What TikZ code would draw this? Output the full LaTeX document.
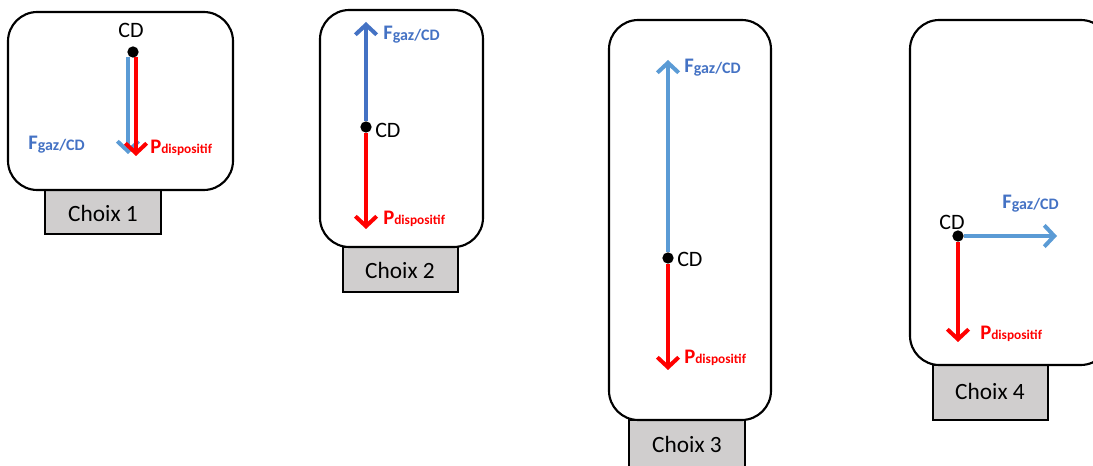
\documentclass[tikz,border=0pt]{standalone}
\usepackage{fontspec}
\setmainfont{Carlito}
\usepackage{tikz}
\usetikzlibrary{arrows.meta}
\usepackage{xcolor}

\definecolor{gazlight}{HTML}{5B9BD5}
\definecolor{gazdark}{HTML}{4472C4}
\definecolor{choixgray}{HTML}{D0CECE}

\newcommand{\Fgaz}{{\fontsize{15.5}{18}\selectfont\bfseries F}{\fontsize{12}{14}\selectfont\bfseries\raisebox{-0.6pt}{gaz/CD}}}
\newcommand{\Pdisp}{{\fontsize{15.5}{18}\selectfont\bfseries P}{\fontsize{10}{12}\selectfont\bfseries dispositif}}

\begin{document}
\begin{tikzpicture}
  [x=0.75pt, y=-0.75pt,
  outline/.style={draw=black, line width=1.6pt, rounded corners=22pt},
  choix/.style={draw=black, fill=choixgray, line width=0.8pt},
  force/.style={line width=3pt, -{Straight Barb[length=7.5pt,width=16pt]}},
  dot/.style={circle, fill=black, inner sep=0pt, minimum size=8.5pt},
  cdlabel/.style={font=\fontsize{16.5}{19}\selectfont, inner sep=0pt},
  flabel/.style={text=gazdark, anchor=base west, inner sep=0pt},
  plabel/.style={text=red, anchor=base west, inner sep=0pt}]

\useasboundingbox (0,0) rectangle (1093,466);
\clip (0,0) rectangle (1093,466);

% Choix 1
\draw[choix] (45,190) rectangle (161,234);
\draw[outline] (8,12) rectangle (233,190);
\node[font=\fontsize{17.5}{20}\selectfont] (c1) at (103,213) {Choix 1};
\node[dot] (cd1) at (133,52) {};
\node[cdlabel, anchor=base] (cdt1) at (131,38) {CD};
\coordinate (f1s) at (128,57);
\coordinate (f1) at (128,154);
\coordinate (p1s) at (136,57);
\coordinate (p1) at (136,156);
\draw[force, gazlight] (f1s) -- (f1);
\draw[force, red] (p1s) -- (p1);
\node[flabel] (fl1) at (28,150) {\Fgaz};
\node[plabel] (pl1) at (150,154) {\Pdisp};

% Choix 2
\draw[choix] (343,247) rectangle (458,292);
\draw[outline] (320,10) rectangle (483,247);
\node[font=\fontsize{17.5}{20}\selectfont] (c2) at (400,270) {Choix 2};
\node[dot] (cd2) at (366,127) {};
\node[cdlabel, anchor=base west] (cdt2) at (375,138) {CD};
\coordinate (f2) at (366,22);
\coordinate (p2) at (366,229);
\draw[force, gazdark] (cd2) -- (f2);
\draw[force, red] (cd2) -- (p2);
\node[flabel] (fl2) at (383,40) {\Fgaz};
\node[plabel] (pl2) at (383,225) {\Pdisp};

% Choix 3
\draw[choix] (629,420) rectangle (745,470);
\draw[outline] (609,20) rectangle (771,420);
\node[font=\fontsize{17.5}{20}\selectfont] (c3) at (687,444) {Choix 3};
\node[dot] (cd3) at (668,258) {};
\node[cdlabel, anchor=base west] (cdt3) at (677,267) {CD};
\coordinate (f3) at (668,60);
\coordinate (p3) at (668,370);
\draw[force, gazlight] (cd3) -- (f3);
\draw[force, red] (cd3) -- (p3);
\node[flabel] (fl3) at (684,73) {\Fgaz};
\node[plabel] (pl3) at (684,364) {\Pdisp};

% Choix 4
\draw[choix] (933,365) rectangle (1048,420);
\draw[outline] (910,20) rectangle (1110,365);
\node[font=\fontsize{17.5}{20}\selectfont] (c4) at (990,391) {Choix 4};
\node[dot] (cd4) at (958,236) {};
\node[cdlabel, anchor=base west] (cdt4) at (939,230) {CD};
\coordinate (f4) at (1057,236);
\coordinate (p4) at (958,342);
\draw[force, gazlight] (cd4) -- (f4);
\draw[force, red] (cd4) -- (p4);
\node[flabel] (fl4) at (1002,209) {\Fgaz};
\node[plabel] (pl4) at (980,340) {\Pdisp};

\end{tikzpicture}
\end{document}
